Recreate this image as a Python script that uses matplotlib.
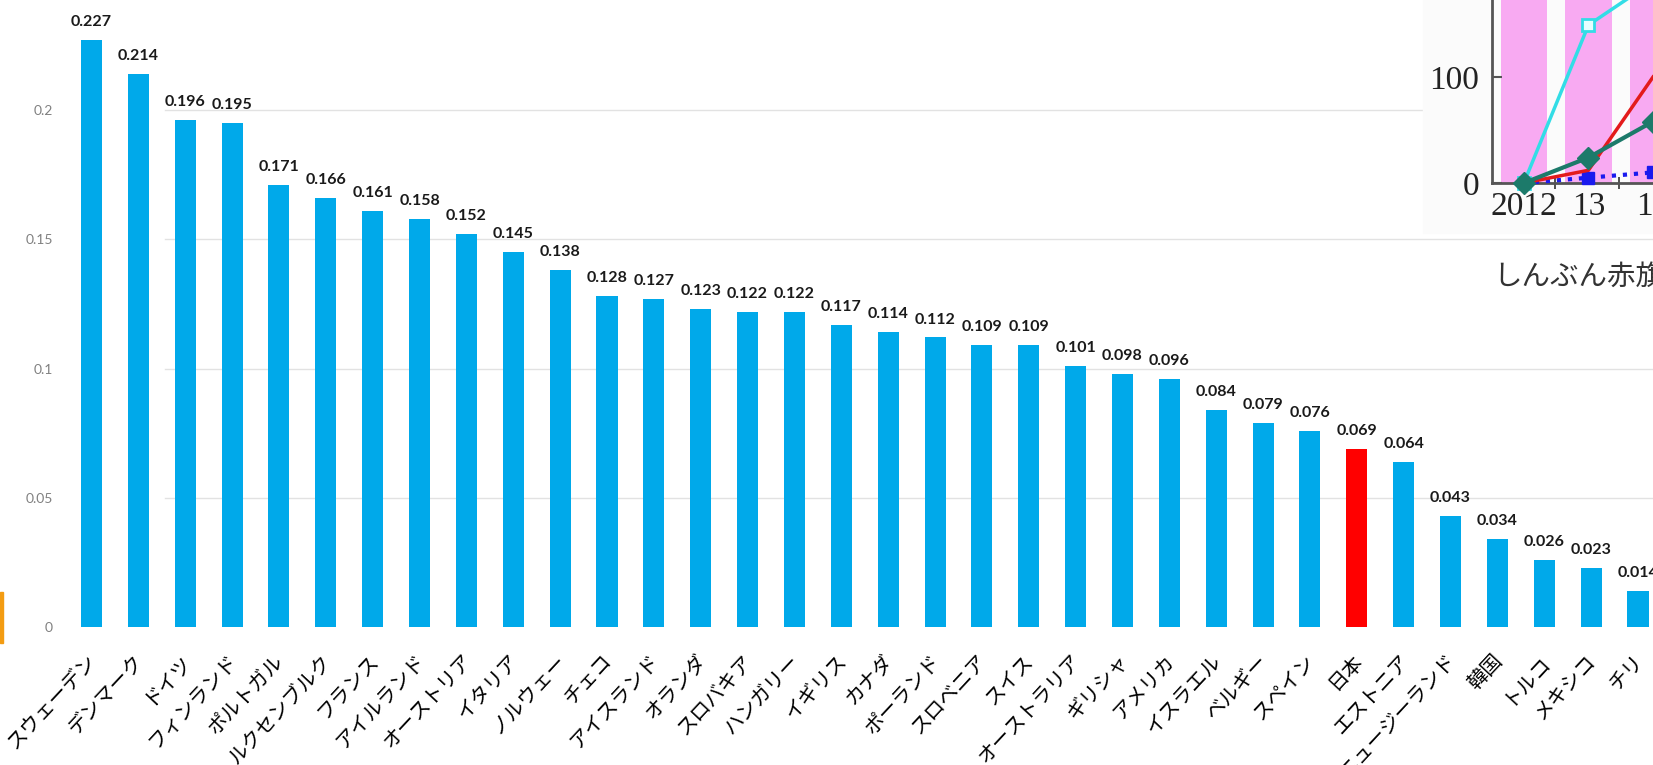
import matplotlib.pyplot as plt
import matplotlib.patches as patches
import numpy as np

# データ
countries = ['スウェーデン', 'デンマーク', 'ドイツ', 'フィンランド', 'ポルトガル', 'ルクセンブルク',
             'フランス', 'アイルランド', 'オーストリア', 'イタリア', 'ノルウェー', 'チェコ',
             'アイスランド', 'オランダ', 'スロバキア', 'ハンガリー', 'イギリス', 'カナダ',
             'ポーランド', 'スロベニア', 'スイス', 'オーストラリア', 'ギリシャ', 'アメリカ',
             'イスラエル', 'ベルギー', 'スペイン', '日本', 'エストニア', 'ニュージーランド',
             '韓国', 'トルコ', 'メキシコ', 'チリ']
values = [0.227, 0.214, 0.196, 0.195, 0.171, 0.166, 0.161, 0.158, 0.152, 0.145, 0.138, 0.128,
          0.127, 0.123, 0.122, 0.122, 0.117, 0.114, 0.112, 0.109, 0.109, 0.101, 0.098, 0.096,
          0.084, 0.079, 0.076, 0.069, 0.064, 0.043, 0.034, 0.026, 0.023, 0.014]
highlight = '日本'
yticks = [0, 0.05, 0.1, 0.15, 0.2]
ytick_labels = ['0', '0.05', '0.1', '0.15', '0.2']

# 右上に重なった別のグラフ（一部だけ見えている）
years = [2012, 2013, 2014]
year_labels = ['2012', '13', '14']
cyan_vals = [0, 149, 190]
red_vals = [0, 12, 100]
teal_vals = [0, 24, 58]
blue_vals = [0, 5, 10]
caption = 'しんぶん赤旗'

plt.rcParams['font.family'] = ['Noto Sans CJK JP', 'DejaVu Sans']

W, H = 1653, 765
fig = plt.figure(figsize=(W / 100, H / 100), dpi=100)

# メインの棒グラフ
px_per_bar = 46.864
ax = fig.add_axes([60 / W, 138 / H, (W - 60) / W, 627 / H])
x = np.arange(len(countries))
colors = ['#ff0000' if c == highlight else '#00a9ea' for c in countries]
ax.bar(x, values, width=0.45, color=colors, zorder=2)
ax.set_xlim((60 - 91.5) / px_per_bar, len(countries) - 1 + 15 / px_per_bar)
ax.set_ylim(0, 627 / 2585)

for v in yticks[1:]:
    ax.axhline(v, xmin=(165 - 60) / (W - 60), color='#e2e2e2', lw=1, zorder=1)

for i, v in enumerate(values):
    ax.annotate(f'{v:.3f}', xy=(i, v), xytext=(0, 10), textcoords='offset points',
                ha='center', va='baseline', family='Lato', fontweight='bold',
                fontsize=11.5, color='#1a1a1a')

for i, name in enumerate(countries):
    ax.annotate(name, xy=(i, 0), xytext=(1.5, -22), textcoords='offset points',
                rotation=47, ha='right', va='center', rotation_mode='anchor',
                fontsize=14.5, color='black', annotation_clip=False)

ax.set_xticks([])
ax.set_yticks(yticks)
ax.set_yticklabels(ytick_labels, family='Lato', fontsize=10, color='#808080')
ax.tick_params(axis='y', length=0, pad=5)
for s in ax.spines.values():
    s.set_visible(False)

# 左端のオレンジの切れ端
fig.patches.append(patches.Rectangle((0, (H - 643) / H), 3 / W, 51 / H,
                                     transform=fig.transFigure, color='#f39c12'))

# 右上のパネル
fig.patches.append(patches.Rectangle((1423 / W, (H - 233) / H), (W - 1423) / W, 233 / H,
                                     transform=fig.transFigure, color='#fbfbfb', zorder=1))

ax2 = fig.add_axes([1492 / W, (H - 183) / H, (W - 1492) / W, 183 / H])
ax2.set_zorder(3)
ax2.patch.set_alpha(0)
ax2.set_xlim(2012 - 35 / 71, 2012 + (W - 1527) / 71)
ax2.set_ylim(0, 183 / 1.06)
for yr in years:
    ax2.axvspan(yr - 0.36, yr + 0.36, color='#f8aaf2', lw=0, zorder=0)

ax2.plot(years, blue_vals, ls=':', lw=3, color='#1a1aee', marker='s', ms=9,
         clip_on=False, zorder=3)
ax2.plot(years, red_vals, lw=2.5, color='#e31b1b', clip_on=False, zorder=4)
ax2.plot(years, cyan_vals, lw=2.5, color='#33dde6', marker='s', ms=9,
         mfc='#e6ffff', mec='#33dde6', mew=2, clip_on=False, zorder=5)
ax2.plot(years, teal_vals, lw=3, color='#1c7a6a', marker='D', ms=11,
         clip_on=False, zorder=6)

ax2.set_xticks(years)
ax2.set_xticklabels(year_labels, family='Liberation Serif', fontsize=24, color='#222222')
ax2.set_xticks([2012.49, 2013.48], minor=True)
ax2.tick_params(axis='x', which='major', length=0, pad=6)
ax2.tick_params(axis='x', which='minor', length=9, direction='inout', width=1.2,
                color='#333333')
ax2.set_yticks([0, 100])
ax2.set_yticklabels(['0', '100'], family='Liberation Serif', fontsize=24, color='#222222')
ax2.tick_params(axis='y', length=7, direction='in', width=1.5, color='#555555', pad=9)
ax2.spines['top'].set_visible(False)
ax2.spines['right'].set_visible(False)
ax2.spines['left'].set_color('#555555')
ax2.spines['bottom'].set_color('#555555')
ax2.spines['left'].set_linewidth(2)
ax2.spines['bottom'].set_linewidth(2)

fig.text(1493 / W, 1 - 277 / H, caption, ha='left', va='center', fontsize=20.5,
         color='#333333')

fig.savefig('out.png', dpi=100)
